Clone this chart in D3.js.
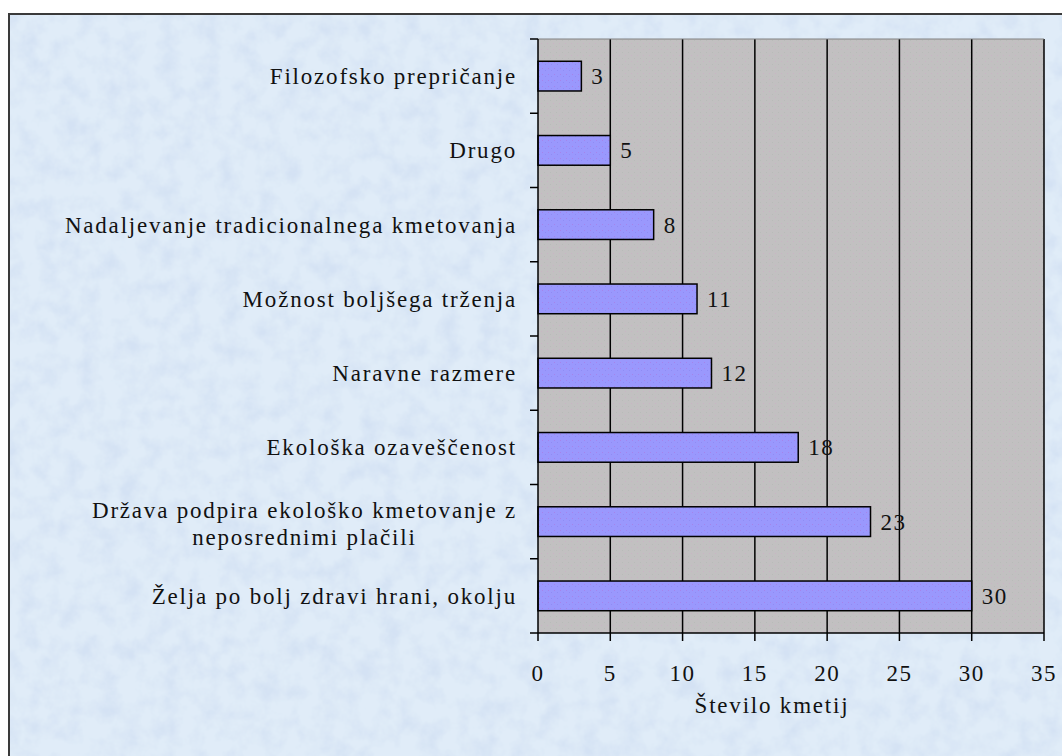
<!DOCTYPE html>
<html>
<head>
<meta charset="utf-8">
<title>Število kmetij</title>
<script src="https://d3js.org/d3.v7.min.js"></script>
<style>
    body { margin: 0; background: #ffffff; }
    svg text { font-family: "Liberation Serif", "DejaVu Serif", serif; fill: #111; }
</style>
</head>
<body>
<div id="chart"></div>

<script type="text/javascript">

    // categories, top to bottom (multi-line labels split with |)
    var categories = [
        'Filozofsko prepričanje',
        'Drugo',
        'Nadaljevanje tradicionalnega kmetovanja',
        'Možnost boljšega trženja',
        'Naravne razmere',
        'Ekološka ozaveščenost',
        'Država podpira ekološko kmetovanje z|neposrednimi plačili',
        'Želja po bolj zdravi hrani, okolju'
    ];
    var counts = [3, 5, 8, 11, 12, 18, 23, 30];
    var xTicks = [0, 5, 10, 15, 20, 25, 30, 35];
    var xTitle = 'Število kmetij';

    var W = 1062, H = 756;
    var plot = {left: 538, right: 1044, top: 39, bottom: 633};
    var fontSize = 23, spacing = 1.8;

    var svg = d3.select('#chart').append('svg')
        .attr('width', W)
        .attr('height', H);

    var defs = svg.append('defs');

    // mottled paper texture for the background
    var f = defs.append('filter').attr('id', 'paper')
        .attr('x', 0).attr('y', 0).attr('width', '100%').attr('height', '100%');
    f.append('feTurbulence').attr('type', 'fractalNoise')
        .attr('baseFrequency', 0.05).attr('numOctaves', 4).attr('seed', 4).attr('result', 'noise');
    f.append('feColorMatrix').attr('in', 'noise').attr('type', 'matrix')
        .attr('values', '0 0 0 0 0.66  0 0 0 0 0.76  0 0 0 0 0.90  0 0 0 -2.2 1.35')
        .attr('result', 'tint');
    f.append('feComposite').attr('in', 'tint').attr('in2', 'SourceGraphic').attr('operator', 'over');

    // speckled plot and bar fills
    var pg = defs.append('pattern').attr('id', 'plotbg')
        .attr('width', 6).attr('height', 6).attr('patternUnits', 'userSpaceOnUse');
    pg.append('rect').attr('width', 6).attr('height', 6).attr('fill', '#c2c0c1');
    pg.append('rect').attr('x', 1).attr('y', 1).attr('width', 1).attr('height', 1).attr('fill', '#c9b4c4');
    pg.append('rect').attr('x', 4).attr('y', 4).attr('width', 1).attr('height', 1).attr('fill', '#b8bcb8');

    var bp = defs.append('pattern').attr('id', 'barfill')
        .attr('width', 6).attr('height', 6).attr('patternUnits', 'userSpaceOnUse');
    bp.append('rect').attr('width', 6).attr('height', 6).attr('fill', '#9a98fd');
    bp.append('rect').attr('x', 2).attr('y', 2).attr('width', 1).attr('height', 1).attr('fill', '#a584ea');
    bp.append('rect').attr('x', 5).attr('y', 4).attr('width', 1).attr('height', 1).attr('fill', '#8f8cf4');

    // background + outer border
    svg.append('rect')
        .attr('x', 9).attr('y', 14)
        .attr('width', W).attr('height', H)
        .attr('fill', '#e0ecf8')
        .attr('filter', 'url(#paper)');
    svg.append('rect')
        .attr('x', 9).attr('y', 14)
        .attr('width', W).attr('height', H)
        .attr('fill', 'none')
        .attr('stroke', '#3a3a3a')
        .attr('stroke-width', 2);

    var x = d3.scaleLinear().domain([0, 35]).range([plot.left, plot.right]);
    var y = d3.scaleBand().domain(categories).range([plot.top, plot.bottom]).paddingInner(0.6).paddingOuter(0.3);
    var yb = d3.scaleBand().domain(categories).range([plot.top, plot.bottom]);

    // plot area
    svg.append('rect')
        .attr('x', plot.left).attr('y', plot.top)
        .attr('width', plot.right - plot.left).attr('height', plot.bottom - plot.top)
        .attr('fill', 'url(#plotbg)');

    // vertical gridlines
    svg.append('g').selectAll('line')
        .data(xTicks.slice(1))
        .enter().append('line')
        .attr('x1', function(d) { return x(d); })
        .attr('x2', function(d) { return x(d); })
        .attr('y1', plot.top).attr('y2', plot.bottom)
        .attr('stroke', '#000').attr('stroke-width', 1.5);

    // top edge of plot area
    svg.append('line')
        .attr('x1', plot.left).attr('x2', plot.right)
        .attr('y1', plot.top).attr('y2', plot.top)
        .attr('stroke', '#808080').attr('stroke-width', 1);

    // bars
    svg.append('g').selectAll('rect')
        .data(counts)
        .enter().append('rect')
        .attr('x', x(0))
        .attr('y', function(d, i) { return y(categories[i]); })
        .attr('width', function(d) { return x(d) - x(0); })
        .attr('height', y.bandwidth())
        .attr('fill', 'url(#barfill)')
        .attr('stroke', '#000').attr('stroke-width', 1.5);

    // value labels
    svg.append('g').selectAll('text')
        .data(counts)
        .enter().append('text')
        .attr('x', function(d) { return x(d) + 10; })
        .attr('y', function(d, i) { return yb(categories[i]) + yb.bandwidth() / 2; })
        .attr('dy', '0.35em')
        .attr('font-size', fontSize)
        .attr('letter-spacing', 1.5)
        .text(function(d) { return d; });

    // y axis with ticks between categories
    var yAxis = svg.append('g').attr('transform', 'translate(' + plot.left + ',0)');
    yAxis.append('line')
        .attr('x1', 0).attr('x2', 0).attr('y1', plot.top).attr('y2', plot.bottom)
        .attr('stroke', '#000').attr('stroke-width', 1.5);
    yAxis.selectAll('.tick')
        .data(d3.range(categories.length + 1))
        .enter().append('line')
        .attr('x1', -8).attr('x2', 0)
        .attr('y1', function(i) { return plot.top + i * yb.step(); })
        .attr('y2', function(i) { return plot.top + i * yb.step(); })
        .attr('stroke', '#000').attr('stroke-width', 1.5);

    // category labels
    var labels = svg.append('g').selectAll('text')
        .data(categories)
        .enter().append('text')
        .attr('font-size', fontSize)
        .attr('letter-spacing', spacing)
        .attr('text-anchor', 'end');

    labels.each(function(d) {
        var lines = d.split('|');
        var el = d3.select(this);
        var cy = yb(d) + yb.bandwidth() / 2 + (lines.length > 1 ? 2 : 0);
        var lh = 27;
        var top = cy - (lines.length - 1) * lh / 2;
        var tsp = lines.map(function(l, k) {
            return el.append('tspan').attr('x', 517).attr('y', top + k * lh).attr('dy', '0.35em').text(l);
        });
        if (lines.length > 1) {
            // centre the shorter lines under the longest one
            var w0 = tsp[0].node().getComputedTextLength();
            tsp.forEach(function(t, k) {
                if (k === 0) return;
                var wk = t.node().getComputedTextLength();
                t.attr('x', 517 - (w0 - wk) / 2);
            });
        }
    });

    // x axis
    var xAxis = svg.append('g').attr('transform', 'translate(0,' + plot.bottom + ')');
    xAxis.append('line')
        .attr('x1', plot.left).attr('x2', plot.right)
        .attr('stroke', '#000').attr('stroke-width', 1.5);
    xAxis.selectAll('.tk')
        .data(xTicks)
        .enter().append('line')
        .attr('x1', function(d) { return x(d); })
        .attr('x2', function(d) { return x(d); })
        .attr('y1', 0).attr('y2', 8)
        .attr('stroke', '#000').attr('stroke-width', 1.5);
    xAxis.selectAll('text')
        .data(xTicks)
        .enter().append('text')
        .attr('x', function(d) { return x(d); })
        .attr('y', 48)
        .attr('text-anchor', 'middle')
        .attr('font-size', fontSize)
        .attr('letter-spacing', 1.5)
        .text(function(d) { return d; });

    svg.append('text')
        .attr('x', 772).attr('y', 713)
        .attr('text-anchor', 'middle')
        .attr('font-size', fontSize)
        .attr('letter-spacing', spacing)
        .text(xTitle);

</script>
</body>
</html>
